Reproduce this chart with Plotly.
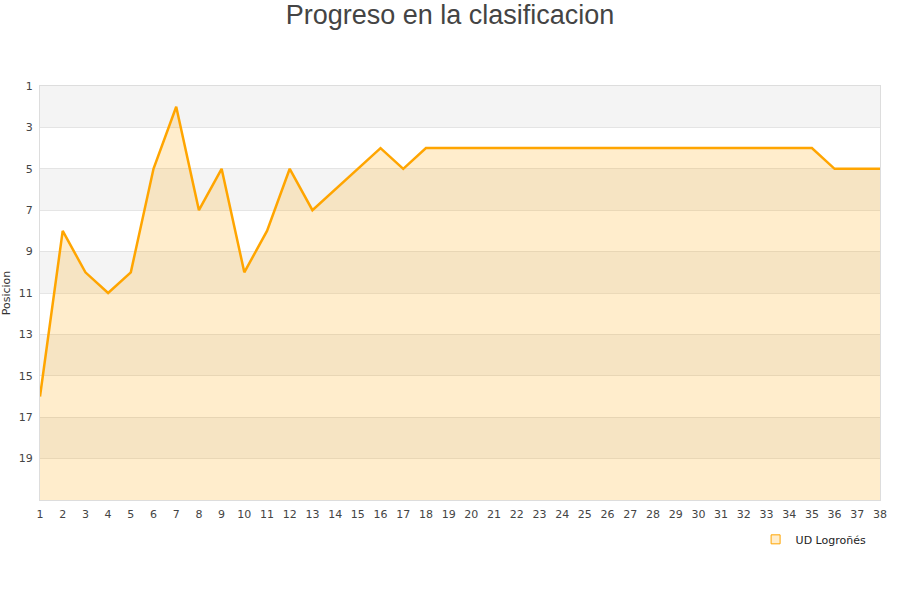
import plotly.graph_objects as go

jornadas = list(range(1, 39))
posiciones = [16, 8, 10, 11, 10, 5, 2, 7, 5, 10, 8, 5, 7, 6, 5, 4, 5, 4, 4, 4,
              4, 4, 4, 4, 4, 4, 4, 4, 4, 4, 4, 4, 4, 4, 4, 5, 5, 5]
equipo = "UD Logroñés"
y_ticks = [1, 3, 5, 7, 9, 11, 13, 15, 17, 19]

fig = go.Figure()

# alternating background bands
shapes = []
for i, y0 in enumerate(range(1, 21, 2)):
    color = "#f4f4f4" if i % 2 == 0 else "#ffffff"
    shapes.append(dict(type="rect", xref="paper", yref="y", x0=0, x1=1, y0=y0, y1=y0 + 2,
                       fillcolor=color, line=dict(width=0), layer="below"))

# baseline for fill
fig.add_trace(go.Scatter(x=jornadas, y=[21] * len(jornadas), mode="lines",
                         line=dict(width=0, color="rgba(0,0,0,0)"), showlegend=False,
                         hoverinfo="skip"))
fig.add_trace(go.Scatter(x=jornadas, y=posiciones, mode="lines", name=equipo,
                         line=dict(color="#ffa500", width=2.5),
                         fill="tonexty", fillcolor="rgba(255,165,0,0.2)",
                         showlegend=False))
# legend marker
fig.add_trace(go.Scatter(x=[None], y=[None], mode="markers", name=equipo,
                         marker=dict(symbol="square", size=9, color="rgba(255,165,0,0.2)",
                                     line=dict(color="#ffa500", width=1))))

fig.update_layout(
    width=900, height=600,
    paper_bgcolor="white", plot_bgcolor="white",
    margin=dict(l=40, r=20, t=86, b=100, autoexpand=False),
    title=dict(text="Progreso en la clasificacion", x=0.5, xanchor="center",
               y=0.975, yanchor="middle",
               font=dict(family="Liberation Sans, Arial", size=27, color="#444444")),
    font=dict(family="DejaVu Sans", size=11, color="#444444"),
    shapes=shapes,
    showlegend=True,
    legend=dict(x=0.99, xanchor="right", y=-0.095, yanchor="middle",
                font=dict(size=11, color="#222222"), bgcolor="rgba(0,0,0,0)"),
    xaxis=dict(range=[1, 38], tickmode="array", tickvals=jornadas, automargin=False,
               showgrid=False, zeroline=False, showline=True, linecolor="#dddddd",
               ticks="outside", ticklen=4, tickcolor="rgba(0,0,0,0)",
               tickfont=dict(size=11, color="#444444")),
    yaxis=dict(range=[21, 1], tickmode="array", tickvals=y_ticks, automargin=False,
               showgrid=True, gridcolor="rgba(200,200,200,0.45)", zeroline=False,
               showline=True, linecolor="#dddddd",
               ticks="outside", ticklen=4, tickcolor="rgba(0,0,0,0)",
               title=dict(text="Posicion", font=dict(size=11, color="#333333"), standoff=12),
               tickfont=dict(size=11, color="#444444"), layer="above traces"),
)
fig.update_layout(yaxis_mirror=True, xaxis_mirror=True)

fig.write_html("out.html", config={"displayModeBar": False},
               post_script="document.body.style.margin='0';")
